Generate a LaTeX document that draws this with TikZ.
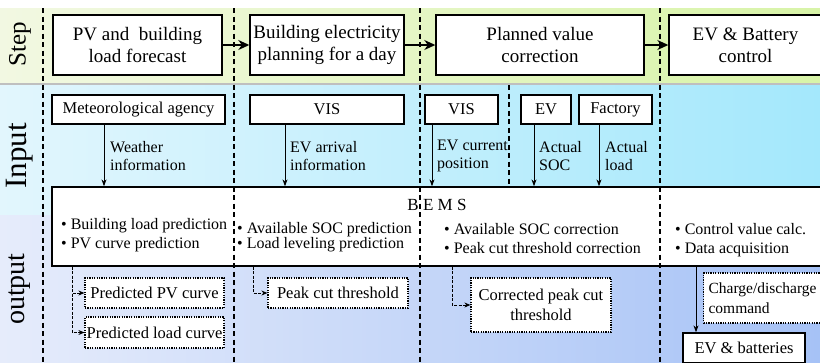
\documentclass[tikz,border=0pt]{standalone}
\usepackage{fontspec}
\setmainfont{Liberation Serif}
\usetikzlibrary{arrows.meta}
\begin{document}
\begin{tikzpicture}[x=1pt,y=-1pt,
  stepbox/.style={draw,line width=1.4pt,fill=white,minimum height=60pt,align=center,font=\fontsize{19}{22}\selectfont,inner sep=0pt},
  inbox/.style={draw,line width=1.3pt,fill=white,minimum height=29pt,font=\fontsize{16.5}{19}\selectfont,inner sep=0pt},
  outbox/.style={draw,line width=1.2pt,dash pattern=on 1.2pt off 1.2pt,fill=white,font=\fontsize{16.5}{19.5}\selectfont,inner sep=0pt,align=center},
  lbl/.style={font=\fontsize{16}{18.5}\selectfont,align=left,anchor=west,inner sep=0pt},
  bul/.style={font=\fontsize{16}{19}\selectfont,anchor=base west,inner sep=0pt},
  side/.style={rotate=90,inner sep=0pt},
  sep/.style={line width=1.3pt,dash pattern=on 5pt off 3.5pt},
  flow/.style={line width=1.5pt,-{Stealth[length=11pt,width=10pt]}},
  feed/.style={line width=1pt,-{Stealth[length=7pt,width=5pt]}},
  res/.style={line width=1pt,dash pattern=on 3pt off 1.5pt,-{Stealth[length=6pt,width=5pt]}},
]
\useasboundingbox (0,0) rectangle (820,362);
\clip (0,0) rectangle (820,362);
\fill[white] (0,0) rectangle (820,362);
% bands
\shade[left color={rgb,255:red,242;green,248;blue,226},right color={rgb,255:red,216;green,244;blue,168}] (0,8) rectangle (820,83);
\fill[black!25] (0,83) rectangle (820,85);
\shade[left color={rgb,255:red,226;green,246;blue,253},right color={rgb,255:red,164;green,232;blue,252}] (0,85) rectangle (820,215);
\shade[left color={rgb,255:red,230;green,236;blue,251},right color={rgb,255:red,166;green,194;blue,246}] (0,215) rectangle (820,362);
% side labels
\node[side,font=\fontsize{25}{27}\selectfont] (lstep) at (20,44) {Step};
\node[side,font=\fontsize{31}{33}\selectfont] (linput) at (20,156) {Input};
\node[side,font=\fontsize{28}{30}\selectfont] (loutput) at (20,289) {output};
% step boxes
\node[stepbox,minimum width=169pt] (s1) at (137.5,45) {PV and~ building\\load forecast};
\node[stepbox,minimum width=154pt] (s2) at (327,45) {Building electricity\\planning for a day};
\node[stepbox,minimum width=208pt] (s3) at (540,45) {Planned value\\correction};
\node[stepbox,minimum width=153pt] (s4) at (745.5,45) {EV \& Battery\\control};
\draw[flow] (s1.east) -- (s2.west);
\draw[flow] (s2.east) -- (s3.west);
\draw[flow] (s3.east) -- (s4.west);
% input boxes
\node[inbox,minimum width=173pt] (m) at (138.5,109.5) {Meteorological agency};
\node[inbox,minimum width=154pt] (v1) at (327,109.5) {VIS};
\node[inbox,minimum width=73pt] (v2) at (461.5,109.5) {VIS};
\node[inbox,minimum width=50pt] (ev) at (546,109.5) {EV};
\node[inbox,minimum width=73pt] (fa) at (615.5,109.5) {Factory};
% BEMS box
\node[draw,line width=1.3pt,fill=white,minimum width=770pt,minimum height=79pt,inner sep=0pt] (bems) at (437,226.5) {};
\node[font=\fontsize{17}{19}\selectfont,inner sep=0pt] (bemst) at (437,205) {B E M S};
% input arrows
\draw[feed] (m.south -| 104,0) -- (bems.north -| 104,0);
\draw[feed] (v1.south -| 285,0) -- (bems.north -| 285,0);
\draw[feed] (v2.south -| 432,0) -- (bems.north -| 432,0);
\draw[feed] (ev.south -| 534,0) -- (bems.north -| 534,0);
\draw[feed] (fa.south -| 599,0) -- (bems.north -| 599,0);
\node[lbl] (wl) at (110,156) {Weather\\information};
\node[lbl] (al) at (290,156) {EV arrival\\information};
\node[lbl] (cl) at (437,156) {EV current\\position};
\node[lbl] (sl) at (539,156) {Actual\\SOC};
\node[lbl] (ll) at (605,156) {Actual\\load};
% bullets
\node[bul] (b11) at (61,229.5) {• Building load prediction};
\node[bul] (b12) at (61,248.5) {• PV curve prediction};
\node[bul] (b21) at (237,233.5) {• Available SOC prediction};
\node[bul] (b22) at (237,248.5) {• Load leveling prediction};
\node[bul] (b31) at (444,234.5) {• Available SOC correction};
\node[bul] (b32) at (444,253.5) {• Peak cut threshold correction};
\node[bul] (b41) at (675,234.5) {• Control value calc.};
\node[bul] (b42) at (675,253.5) {• Data acquisition};
% output boxes
\node[outbox,minimum width=139pt,minimum height=30pt] (pv) at (154.5,293) {Predicted PV curve};
\node[outbox,minimum width=139pt,minimum height=31pt] (ld) at (154.5,332.5) {Predicted load curve};
\node[outbox,minimum width=140pt,minimum height=30pt] (pk) at (338,293) {Peak cut threshold};
\node[outbox,minimum width=140pt,minimum height=54pt] (co) at (541,305) {Corrected peak cut\\threshold};
\node[outbox,anchor=west,minimum height=50pt,text width=113pt,inner xsep=5pt,align=left,font=\fontsize{15.5}{19.5}\selectfont] (cd) at (703,298) {Charge/discharge\\command};
\node[draw,line width=1.3pt,fill=white,minimum width=122pt,minimum height=30pt,inner sep=0pt,font=\fontsize{16.5}{19}\selectfont] (eb) at (744,348) {EV \& batteries};
% output connectors
\coordinate (c1) at (bems.south -| 72,0);
\draw[res] (c1) |- (pv.west);
\draw[res] (c1) |- (ld.west);
\draw[res] (bems.south -| 253,0) |- (pk.west);
\draw[res] (bems.south -| 452,0) |- (co.west);
\draw[feed] (bems.south -| 696,0) -- (eb.north -| 696,0);
% separators
\draw[sep] (43,8) -- (43,362);
\draw[sep] (234,8) -- (234,362);
\draw[sep] (420,8) -- (420,362);
\draw[sep] (660,8) -- (660,362);
\draw[sep] (509,85) -- (509,187);
\end{tikzpicture}
\end{document}
